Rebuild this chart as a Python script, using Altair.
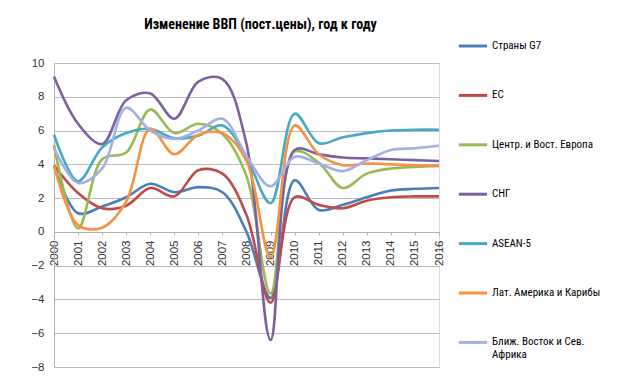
import altair as alt
import pandas as pd

years = list(range(2000, 2017))

series_names = [
    "Страны G7",
    "ЕС",
    "Центр. и Вост. Европа",
    "СНГ",
    "ASEAN-5",
    "Лат. Америка и Карибы",
    "Ближ. Восток и Сев. Африка",
]

g7 = [3.9, 1.1, 1.5, 2.05, 2.85, 2.35, 2.65, 2.35, 0.0, -3.9, 3.05, 1.3, 1.6, 2.05, 2.45, 2.55, 2.6]
eu = [3.95, 2.3, 1.4, 1.55, 2.6, 2.1, 3.65, 3.45, 1.0, -4.2, 2.05, 1.6, 1.4, 1.85, 2.05, 2.1, 2.1]
cee = [5.15, 0.2, 4.3, 4.7, 7.25, 5.85, 6.4, 5.8, 3.3, -3.65, 4.75, 4.1, 2.6, 3.45, 3.75, 3.85, 3.9]
cis = [9.2, 6.4, 5.2, 7.8, 8.2, 6.7, 8.9, 9.05, 5.2, -6.4, 4.85, 4.6, 4.4, 4.35, 4.3, 4.25, 4.2]
asean5 = [5.75, 3.0, 5.0, 5.85, 6.1, 5.55, 5.7, 6.3, 4.4, 1.7, 7.0, 5.25, 5.6, 5.85, 6.0, 6.05, 6.05]
latam = [3.95, 0.4, 0.25, 1.8, 6.1, 4.6, 5.75, 5.85, 4.2, -1.5, 6.3, 4.6, 3.95, 4.05, 4.0, 3.95, 3.9]
mena = [4.95, 2.9, 3.75, 7.35, 6.0, 5.5, 6.0, 6.7, 4.5, 2.7, 4.45, 4.05, 3.6, 4.25, 4.85, 4.95, 5.1]

colors = ["#4A7EBB", "#BE4B48", "#98B954", "#7D60A0", "#46AAC5", "#F69240", "#A2B1E4"]

title_text = "Изменение ВВП (пост.цены), год к году"
y_ticks = [-8, -6, -4, -2, 0, 2, 4, 6, 8, 10]

all_series = [g7, eu, cee, cis, asean5, latam, mena]
rows = []
for name, vals in zip(series_names, all_series):
    for yr, v in zip(years, vals):
        rows.append({"year": yr, "value": v, "series": name})
df = pd.DataFrame(rows)

narrow = "Liberation Sans Narrow, Roboto Condensed, Open Sans, sans-serif"

chart = (
    alt.Chart(df)
    .mark_line(interpolate="catmull-rom", strokeWidth=2.6)
    .encode(
        x=alt.X(
            "year:Q",
            scale=alt.Scale(domain=[2000, 2016], nice=False, zero=False),
            axis=alt.Axis(
                title=None,
                values=years,
                format="d",
                labelAngle=270,
                labelFontSize=11.5,
                labelColor="#333333",
                labelFont="Liberation Sans, Arial, sans-serif",
                labelPadding=5,
                grid=False,
                domainColor="#B0B0B0",
                tickColor="#B0B0B0",
                tickSize=3,
                offset=-135,
            ),
        ),
        y=alt.Y(
            "value:Q",
            scale=alt.Scale(domain=[-8, 10], nice=False),
            axis=alt.Axis(
                title=None,
                values=y_ticks,
                labelFontSize=11.5,
                labelColor="#333333",
                labelFont="Liberation Sans, Arial, sans-serif",
                labelPadding=10,
                ticks=False,
                grid=True,
                gridColor="#BDBDBD",
                gridWidth=1.2,
                domainColor="#B0B0B0",
            ),
        ),
        color=alt.Color(
            "series:N",
            sort=series_names,
            scale=alt.Scale(domain=series_names, range=colors),
            legend=alt.Legend(
                title=None,
                orient="none",
                legendX=403,
                legendY=-33,
                symbolType="stroke",
                symbolSize=800,
                symbolStrokeWidth=3,
                labelFont=narrow,
                labelFontSize=11,
                labelColor="#000000",
                labelOffset=3,
                labelLimit=200,
                rowPadding=27.4,
                padding=0,
                labelExpr="datum.label == 'Ближ. Восток и Сев. Африка' ? ['Ближ. Восток и Сев.', 'Африка'] : datum.label",
            ),
        ),
        order=alt.Order("year:Q"),
    )
    .properties(
        width=385,
        height=304,
        autosize="none",
        padding={"left": 46, "top": 55, "right": 170, "bottom": 10},
        title=alt.TitleParams(
            text=title_text,
            font=narrow,
            fontSize=14,
            fontWeight="bold",
            color="#000000",
            anchor="middle",
            dx=14,
            dy=4,
            offset=2,
        ),
    )
    .configure_view(stroke=None)
    .configure(background="white")
)

chart.save("out.html", embed_options={"renderer": "svg", "actions": False})
